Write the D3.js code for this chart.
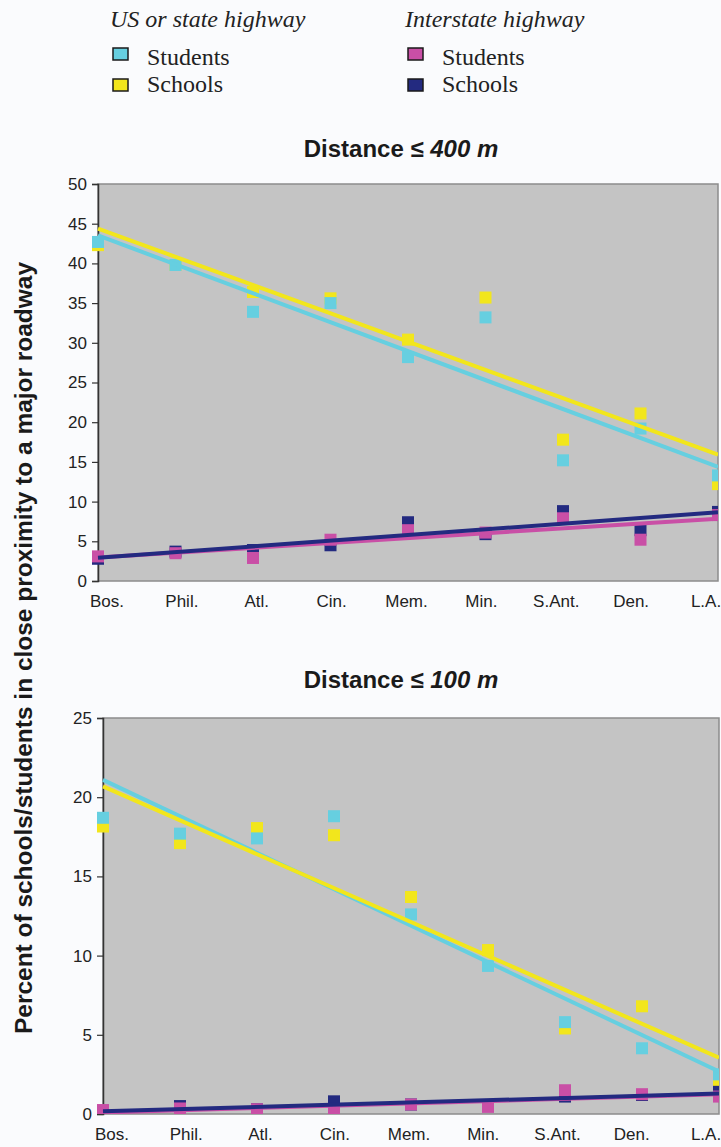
<!DOCTYPE html>
<html>
<head>
<meta charset="utf-8">
<script src="https://cdn.jsdelivr.net/npm/d3@7"></script>
<style>
  body { margin: 0; background: #fafbfd; }
  svg { display: block; }
</style>
</head>
<body>
<div class="chart"></div>
<script>
var cyan = '#66cfe0';
var yellow = '#f2e61c';
var magenta = '#c94fa6';
var navy = '#232a80';
var plotBg = '#c4c4c4';

var width = 721;
var height = 1147;

// data
var cities = ['Bos.', 'Phil.', 'Atl.', 'Cin.', 'Mem.', 'Min.', 'S.Ant.', 'Den.', 'L.A.'];

var usStudents400 = [42.7, 39.8, 33.9, 35.0, 28.2, 33.2, 15.2, 19.2, 13.3];
var usSchools400 = [42.3, 39.8, 36.4, 35.6, 30.4, 35.7, 17.8, 21.1, 12.2];
var isStudents400 = [3.1, 3.5, 2.9, 5.2, 6.4, 6.1, 7.9, 5.2, 8.3];
var isSchools400 = [2.8, 3.7, 3.9, 4.5, 7.4, 5.9, 8.8, 6.4, 8.7];

var usStudents100 = [18.7, 17.7, 17.4, 18.8, 12.6, 9.35, 5.8, 4.15, 2.5];
var usSchools100 = [18.15, 17.1, 18.05, 17.6, 13.7, 10.35, 5.4, 6.8, 1.9];
var isStudents100 = [0.25, 0.35, 0.3, 0.25, 0.6, 0.45, 1.5, 1.25, 1.1];
var isSchools100 = [0.15, 0.5, 0.3, 0.8, 0.6, 0.5, 1.1, 1.2, 1.4];

var ticks400 = [0, 5, 10, 15, 20, 25, 30, 35, 40, 45, 50];
var ticks100 = [0, 5, 10, 15, 20, 25];

var svg = d3.select('.chart').append('svg')
  .attr('width', width)
  .attr('height', height);

svg.append('rect')
  .attr('width', width)
  .attr('height', height)
  .attr('fill', '#fafbfd');

/// Legend
var serif = "'Liberation Serif', 'DejaVu Serif', serif";
var legendGroups = [
  {title: 'US or state highway', x: 110, items: [['Students', cyan], ['Schools', yellow]]},
  {title: 'Interstate highway', x: 405, items: [['Students', magenta], ['Schools', navy]]}
];

legendGroups.forEach(function(g){
  svg.append('text')
    .attr('x', g.x)
    .attr('y', 27)
    .attr('font-family', serif)
    .attr('font-style', 'italic')
    .attr('font-size', '24px')
    .attr('fill', '#222')
    .text(g.title);
  g.items.forEach(function(it, i){
    svg.append('rect')
      .attr('x', g.x + 3)
      .attr('y', 48 + i * 31)
      .attr('width', 15)
      .attr('height', 12)
      .attr('fill', it[1])
      .attr('stroke', '#1a1a1a')
      .attr('stroke-width', 1.5);
    svg.append('text')
      .attr('x', g.x + 37)
      .attr('y', 65 + i * 27)
      .attr('font-family', serif)
      .attr('font-size', '24px')
      .attr('fill', '#222')
      .text(it[0]);
  });
});

/// Y axis title
svg.append('text')
  .attr('transform', 'translate(32, 648) rotate(-90)')
  .attr('text-anchor', 'middle')
  .attr('font-family', "'Liberation Sans', Arial, sans-serif")
  .attr('font-weight', 'bold')
  .attr('font-size', '24px')
  .attr('textLength', 772)
  .attr('lengthAdjust', 'spacingAndGlyphs')
  .attr('fill', '#1a1a1a')
  .text('Percent of schools/students in close proximity to a major roadway');

/// Panels
function regression(vals){
  var n = vals.length;
  var mx = d3.mean(vals, function(d, i){ return i; });
  var my = d3.mean(vals);
  var num = 0, den = 0;
  vals.forEach(function(v, i){ num += (i - mx) * (v - my); den += (i - mx) * (i - mx); });
  var slope = num / den;
  var b = my - slope * mx;
  return [[0, b], [n - 1, b + slope * (n - 1)]];
}

function panel(opts){
  var g = svg.append('g');

  var x = d3.scalePoint().domain(cities).range([opts.left, opts.right]);
  var xi = d3.scaleLinear().domain([0, cities.length - 1]).range([opts.left, opts.right]);
  var xLabel = d3.scalePoint().domain(cities).range([opts.labelLeft, opts.labelRight]);
  var y = d3.scaleLinear().domain([0, opts.max]).range([opts.bottom, opts.top]);

  // title
  var title = g.append('text')
    .attr('x', 401)
    .attr('y', opts.top - 27 - (opts.titleGap || 0))
    .attr('text-anchor', 'middle')
    .attr('font-family', "'Liberation Sans', Arial, sans-serif")
    .attr('font-weight', 'bold')
    .attr('font-size', '24px')
    .attr('fill', '#1a1a1a');
  title.append('tspan').text('Distance \u2264 ');
  title.append('tspan').attr('font-style', 'italic').text(opts.dist + ' m');

  g.append('rect')
    .attr('x', opts.left)
    .attr('y', opts.top)
    .attr('width', opts.right - opts.left)
    .attr('height', opts.bottom - opts.top)
    .attr('fill', plotBg)
    .attr('stroke', '#8c8c8c')
    .attr('stroke-width', 1.5);

  // y axis
  var yAxis = d3.axisLeft(y)
    .tickValues(opts.ticks)
    .tickSize(6)
    .tickPadding(5);
  var ya = g.append('g')
    .attr('transform', 'translate(' + opts.left + ',0)')
    .call(yAxis);
  ya.select('.domain').attr('stroke', '#333').attr('stroke-width', 1.5);
  ya.selectAll('.tick line').attr('stroke', '#333').attr('stroke-width', 1.2);
  ya.selectAll('.tick text')
    .attr('font-family', "'Liberation Sans', Arial, sans-serif")
    .attr('font-size', '17px')
    .attr('fill', '#222');

  // x labels
  g.selectAll('.xlab')
    .data(cities)
    .enter().append('text')
    .attr('class', 'xlab')
    .attr('x', function(d){ return xLabel(d); })
    .attr('y', opts.bottom + 26)
    .attr('text-anchor', 'middle')
    .attr('font-family', "'Liberation Sans', Arial, sans-serif")
    .attr('font-size', '17px')
    .attr('fill', '#222')
    .text(function(d){ return d; });

  var clip = 'clip' + opts.dist;
  svg.append('clipPath').attr('id', clip)
    .append('rect')
    .attr('x', opts.left - 8).attr('y', opts.top)
    .attr('width', opts.right - opts.left + 8)
    .attr('height', opts.bottom - opts.top);

  var marks = g.append('g').attr('clip-path', 'url(#' + clip + ')');

  // markers (order as drawn in the original)
  opts.markers.forEach(function(s){
    marks.selectAll(null)
      .data(s.values)
      .enter().append('rect')
      .attr('x', function(d, i){ return x(cities[i]) - 6; })
      .attr('y', function(d){ return y(d) - 6; })
      .attr('width', 12)
      .attr('height', 12)
      .attr('fill', s.color);
  });

  // trend lines
  var line = d3.line()
    .x(function(d){ return xi(d[0]); })
    .y(function(d){ return y(d[1]); });

  opts.lines.forEach(function(s){
    marks.append('path')
      .datum(regression(s.values))
      .attr('d', line)
      .attr('fill', 'none')
      .attr('stroke', s.color)
      .attr('stroke-width', 4);
  });
}

panel({
  dist: 400, max: 50, ticks: ticks400,
  left: 98, right: 718, top: 184, bottom: 581,
  labelLeft: 107, labelRight: 706,
  markers: [
    {values: usSchools400, color: yellow},
    {values: usStudents400, color: cyan},
    {values: isSchools400, color: navy},
    {values: isStudents400, color: magenta}
  ],
  lines: [
    {values: usStudents400, color: cyan},
    {values: usSchools400, color: yellow},
    {values: isStudents400, color: magenta},
    {values: isSchools400, color: navy}
  ]
});

panel({
  dist: 100, max: 25, ticks: ticks100,
  left: 103, right: 719, top: 718, bottom: 1114,
  labelLeft: 112, labelRight: 706,
  titleGap: 3,
  markers: [
    {values: usSchools100, color: yellow},
    {values: usStudents100, color: cyan},
    {values: isSchools100, color: navy},
    {values: isStudents100, color: magenta}
  ],
  lines: [
    {values: usStudents100, color: cyan},
    {values: usSchools100, color: yellow},
    {values: isStudents100, color: magenta},
    {values: isSchools100, color: navy}
  ]
});
</script>
</body>
</html>
